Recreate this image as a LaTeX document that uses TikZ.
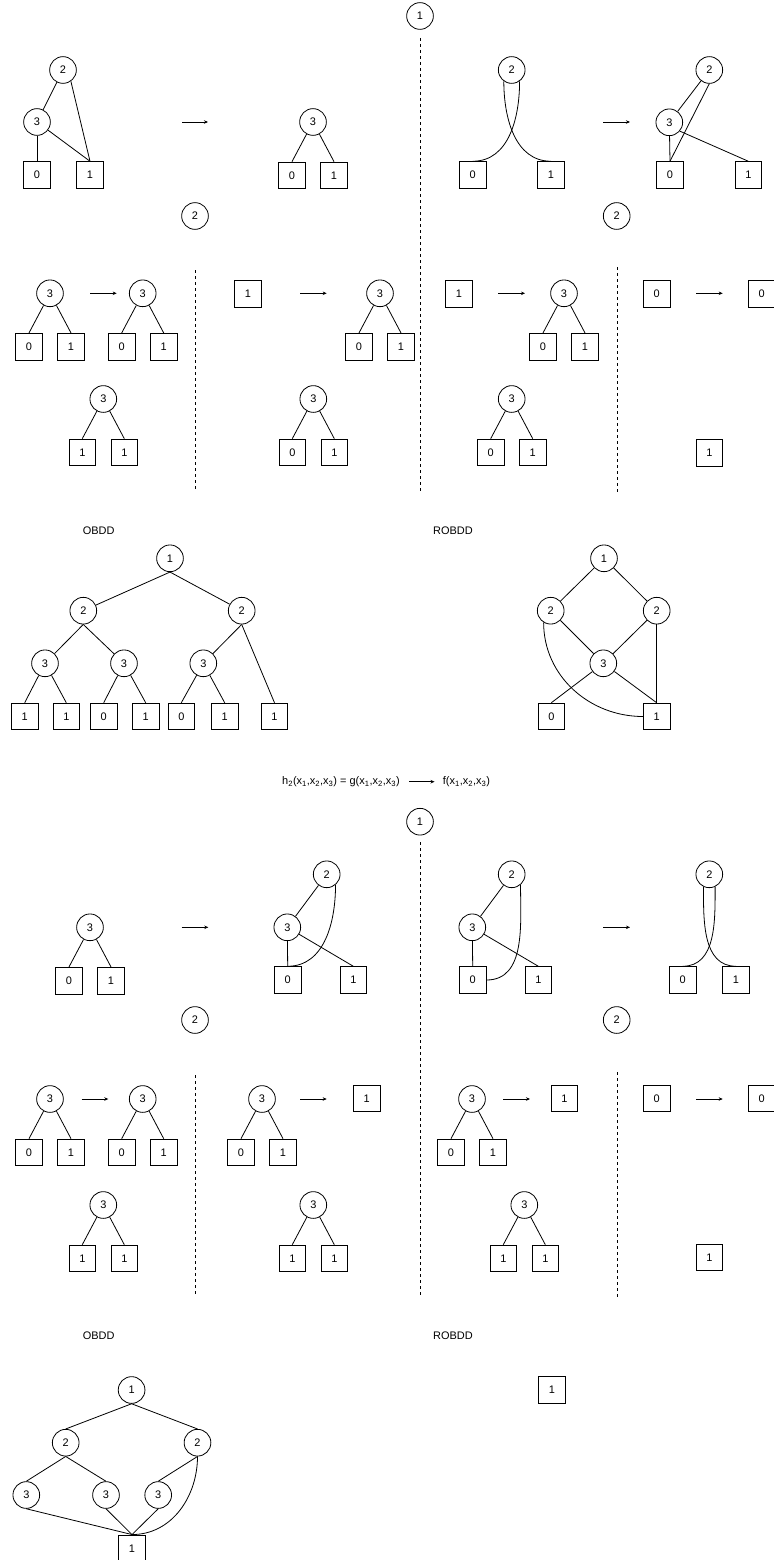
\documentclass[tikz,border=0pt]{standalone}
\usepackage{fontspec}
\setmainfont{Liberation Sans}
\usetikzlibrary{arrows.meta,calc}

% a 3-node with its two terminal boxes
\newcommand{\bddtri}[5]{%
  \node[var] (#1) at (#2,#3) {3};
  \node[term] (#1l) at (#2-21,#3+53.4) {#4};
  \node[term] (#1r) at (#2+21,#3+53.4) {#5};
  \draw (#1) -- (#1l.north);
  \draw (#1) -- (#1r.north);
}

\begin{document}
\begin{tikzpicture}[x=1bp,y=-1bp,>={Stealth[length=4bp,width=3.5bp]},line width=0.8bp,
  every node/.style={font=\fontsize{11}{13}\selectfont},
  var/.style={circle,draw,minimum size=26.7bp,inner sep=0pt},
  term/.style={rectangle,draw,minimum size=26.7bp,inner sep=0pt},
  divider/.style={dash pattern=on 3bp off 3bp},
  txt/.style={inner sep=0pt}]
  \useasboundingbox (0,0) rectangle (774,1560);

  % dashed separators
  \foreach \n/\x/\ya/\yb in {1/420/38/492, 2/195.7/270/491.7, 3/617.3/267/491.7,
      4/420/842.3/1296.7, 5/195.7/1075/1296.7, 6/617.3/1072.3/1296.7} {
    \coordinate (d\n s) at (\x,\ya);
    \coordinate (d\n e) at (\x,\yb);
    \draw[divider] (d\n s) -- (d\n e);
  }

  % reduction arrows
  \foreach \n/\xa/\xb/\y in {1/182/208/122, 2/603.3/630/122, 3/90/116.7/293.3,
      4/300/326.7/293.3, 5/498.3/525/293.3, 6/696/722.7/293.3,
      7/181.7/208.3/927.3, 8/603.3/630/927.3, 9/81.7/108.3/1099,
      10/300/326.7/1099, 11/503.3/530/1099, 12/696/722.7/1099} {
    \coordinate (r\n s) at (\xa,\y);
    \coordinate (r\n e) at (\xb,\y);
    \draw[->] (r\n s) -- (r\n e);
  }

  % ---- first function, level 1
  \node[var] (lv1) at (420,16) {1};

  \node[var] (a2) at (63,70) {2};
  \node[var] (a3) at (37,122) {3};
  \node[term] (a0) at (37,175) {0};
  \node[term] (a1) at (90,175) {1};
  \draw (a2) -- (a3);
  \draw (a2.-55) -- (a1.north);
  \draw (a3) -- (a0.north);
  \draw (a3) -- (a1.north);
  \bddtri{b3}{313}{122}{0}{1}
  \node[var] (lv2a) at (195,216) {2};

  \node[var] (c2) at (511.7,70) {2};
  \node[term] (c0) at (472.7,175) {0};
  \node[term] (c1) at (551,175) {1};
  \draw (c2.235) to[out=-90,in=180] (c1.north);
  \draw (c2.305) to[out=-90,in=0] (c0.north);

  \node[var] (e2) at (709.3,70) {2};
  \node[var] (e3) at (669.3,122.3) {3};
  \node[term] (e0) at (670,175) {0};
  \node[term] (e1) at (748.3,175) {1};
  \draw (e2) -- (e3);
  \draw (e2.south) -- (e0.north);
  \draw (e3) -- (e0.north);
  \draw (e3.-40) -- (e1.north);
  \node[var] (lv2b) at (616.7,216) {2};

  % ---- level 3
  \bddtri{f3}{50}{293.3}{0}{1}
  \bddtri{g3}{142.7}{293.3}{0}{1}
  \bddtri{h3}{103.3}{399}{1}{1}

  \node[term] (i1) at (248,294) {1};
  \bddtri{j3}{380}{293.3}{0}{1}
  \bddtri{k3}{313.3}{399}{0}{1}

  \node[term] (l1) at (459,294) {1};
  \bddtri{m3}{564}{293.3}{0}{1}
  \bddtri{n3}{511.7}{399}{0}{1}

  \node[term] (p0) at (656.7,294) {0};
  \node[term] (q0) at (761.7,294) {0};
  \node[term] (q1) at (709.3,452.7) {1};

  % ---- OBDD / ROBDD
  \node[txt] (obdda) at (98.6,531) {OBDD};
  \node[txt] (robdda) at (453,531) {ROBDD};

  \node[var] (u1) at (170,558.3) {1};
  \node[var] (u2a) at (83.3,610.7) {2};
  \node[var] (u2b) at (241.7,610.7) {2};
  \node[var] (u3a) at (45,663.3) {3};
  \node[var] (u3b) at (124,663.3) {3};
  \node[var] (u3c) at (203.3,663.3) {3};
  \foreach \i/\x/\v in {1/24.7/1, 2/66.3/1, 3/103.7/0, 4/145.7/1, 5/181.3/0, 6/224.7/1, 7/274.5/1}
    \node[term] (ut\i) at (\x,716.5) {\v};
  \draw (u1.south) -- (u2a);
  \draw (u1.south) -- (u2b);
  \draw (u2a.south) -- (u3a);
  \draw (u2a.south) -- (u3b);
  \draw (u2b.south) -- (u3c);
  \draw (u2b.south) -- (ut7.north);
  \draw (u3a) -- (ut1.north);
  \draw (u3a) -- (ut2.north);
  \draw (u3b) -- (ut3.north);
  \draw (u3b) -- (ut4.north);
  \draw (u3c) -- (ut5.north);
  \draw (u3c) -- (ut6.north);

  \node[var] (v1) at (604,558.3) {1};
  \node[var] (v2a) at (550.7,610.7) {2};
  \node[var] (v2b) at (656.7,610.7) {2};
  \node[var] (v3) at (603.3,663.3) {3};
  \node[term] (vt0) at (551.3,716.5) {0};
  \node[term] (vt1) at (656.7,716.5) {1};
  \draw (v1) -- (v2a);
  \draw (v1) -- (v2b);
  \draw (v2a) -- (v3);
  \draw (v2b) -- (v3);
  \draw (v2b) -- (vt1.north);
  \draw (v3) -- (vt0.north);
  \draw (v3) -- (vt1.north);
  \draw (v2a.239) to[out=-90,in=180] (vt1.west);

  % ---- second function
  \node[txt] (hlhs) at (341,781.7) {h\textsubscript{2}(x\textsubscript{1},x\textsubscript{2},x\textsubscript{3}) = g(x\textsubscript{1},x\textsubscript{2},x\textsubscript{3})};
  \node[txt] (frhs) at (466.5,781.7) {f(x\textsubscript{1},x\textsubscript{2},x\textsubscript{3})};
  \draw[->,shorten <=9bp,shorten >=8bp] (hlhs) -- (frhs);

  \node[var] (lw1) at (420,821.7) {1};

  \bddtri{w3}{90}{927.3}{0}{1}
  \node[var] (x2) at (326.7,874.3) {2};
  \node[var] (x3) at (287.3,927.3) {3};
  \node[term] (x0) at (287.7,980) {0};
  \node[term] (x1) at (353.3,980) {1};
  \draw (x2) -- (x3);
  \draw (x3) -- (x0.north);
  \draw (x3) -- (x1.north);
  \draw (x2.-50) to[out=-90,in=0] (x0.north);
  \node[var] (lw2a) at (195,1020) {2};

  \node[var] (y2) at (511.7,874.3) {2};
  \node[var] (y3) at (472.3,927.3) {3};
  \node[term] (y0) at (472.7,980) {0};
  \node[term] (y1) at (538.3,980) {1};
  \draw (y2) -- (y3);
  \draw (y3) -- (y0.north);
  \draw (y3) -- (y1.north);
  \draw (y2.-50) to[out=-90,in=0] (y0.east);

  \node[var] (z2) at (709.3,874.3) {2};
  \node[term] (z0) at (682.7,980) {0};
  \node[term] (z1) at (736,980) {1};
  \draw (z2.245) to[out=-90,in=180] (z1.north);
  \draw (z2.295) to[out=-90,in=0] (z0.north);
  \node[var] (lw2b) at (616.7,1020) {2};

  \bddtri{f5}{50}{1099}{0}{1}
  \bddtri{g5}{142.7}{1099}{0}{1}
  \bddtri{h5}{103.3}{1205}{1}{1}

  \bddtri{j5}{262}{1099}{0}{1}
  \node[term] (j5t) at (366.7,1098.3) {1};
  \bddtri{k5}{313.3}{1205}{1}{1}

  \bddtri{m5}{472}{1099}{0}{1}
  \node[term] (m5t) at (564.3,1098.3) {1};
  \bddtri{n5}{524.3}{1205}{1}{1}

  \node[term] (p5) at (656.7,1098.3) {0};
  \node[term] (q5) at (761.7,1098.3) {0};
  \node[term] (q5t) at (709.3,1257.3) {1};

  \node[txt] (obddb) at (98.6,1336) {OBDD};
  \node[txt] (robddb) at (453,1336) {ROBDD};

  \node[var] (s1) at (131.6,1390) {1};
  \node[var] (s2a) at (65.7,1442.7) {2};
  \node[var] (s2b) at (197.5,1442.7) {2};
  \node[var] (s3a) at (26.3,1495) {3};
  \node[var] (s3b) at (106,1495) {3};
  \node[var] (s3c) at (158.2,1495) {3};
  \node[term] (st1) at (132,1548.3) {1};
  \draw (s1.south) -- (s2a.north);
  \draw (s1.south) -- (s2b.north);
  \draw (s2a.south) -- (s3a.north);
  \draw (s2a.south) -- (s3b.north);
  \draw (s2b.south) -- (s3c.north);
  \draw (s2b.south) to[out=-90,in=0] (st1.north);
  \draw (s3a.south) -- (st1.north);
  \draw (s3b.south) -- (st1.north);
  \draw (s3c.south) -- (st1.north);

  \node[term] (rt1) at (552,1389.7) {1};
\end{tikzpicture}
\end{document}
